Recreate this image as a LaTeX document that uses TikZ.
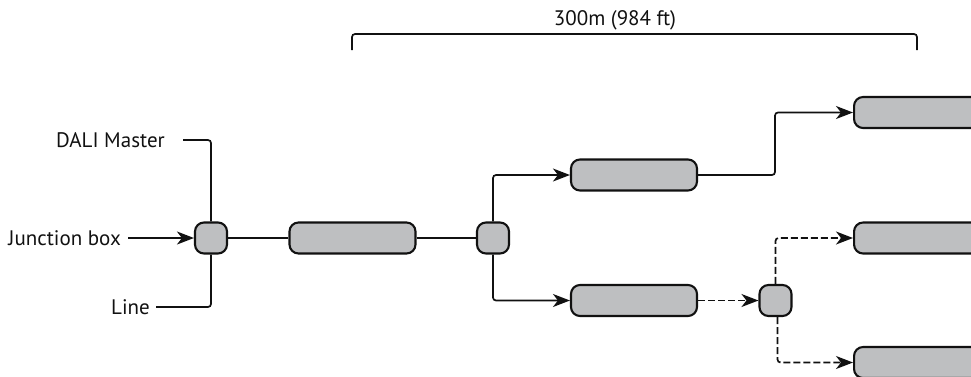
\documentclass[tikz,border=0pt]{standalone}
\usepackage{fontspec}
\setmainfont{PT Sans}
\usetikzlibrary{arrows.meta}
\definecolor{boxgray}{HTML}{BEBFC1}
\definecolor{ink}{HTML}{111111}
\tikzset{
  unit/.style={draw=ink, fill=boxgray, line width=2.1pt, rounded corners=9pt, inner sep=0pt, minimum height=31pt},
  junc/.style={unit, minimum width=32pt},
  bar/.style={unit, minimum width=126pt},
  wide/.style={unit, minimum width=150pt},
  lbl/.style={font=\fontsize{21}{24}\selectfont, inner sep=0pt, text=ink},
  wire/.style={draw=ink, line width=1.7pt, rounded corners=3pt},
  arr/.style={wire, -{Stealth[length=17pt, width=13pt, inset=5pt]}},
  dwire/.style={wire, dash pattern=on 7pt off 3pt},
  darr/.style={dwire, -{Stealth[length=17pt, width=13pt, inset=5pt]}}
}
\begin{document}
\begin{tikzpicture}[x=1pt,y=-1pt]
\clip (0,0) rectangle (971,376);
% bracket
\coordinate (bl) at (352,50);
\coordinate (br) at (917,50);
\draw[wire] (bl) -- ++(0,-16) -| (br);
\node[lbl] (dist) at (615,20) {300m (984 ft)};
% left labels
\node[lbl, anchor=east] (dali) at (165,140) {DALI Master};
\node[lbl, anchor=east] (jbox) at (121,238) {Junction box};
\node[lbl, anchor=east] (line) at (150,307) {Line};
% units
\node[junc] (j1) at (211,238) {};
\node[bar] (b1) at (352.5,238) {};
\node[junc] (j2) at (493,238) {};
\node[bar] (t1) at (634,175) {};
\node[bar] (d1) at (634,300.5) {};
\node[junc] (j3) at (775.5,300.5) {};
\node[wide, anchor=west] (r1) at (853,112.5) {};
\node[wide, anchor=west] (r2) at (853,238) {};
\node[wide, anchor=west] (r3) at (853,362.5) {};
\coordinate (c1) at (775,175);
% connectors
\draw[wire] ([xshift=18pt]dali.east) -- (dali.east -| j1.north) -- (j1.north);
\draw[arr] ([xshift=7pt]jbox.east) -- (j1.west);
\draw[wire] ([xshift=6pt]line.east) -- (line.east -| j1.south) -- (j1.south);
\draw[wire] (j1.east) -- (b1.west);
\draw[wire] (b1.east) -- (j2.west);
\draw[arr] (j2.north) |- (t1.west);
\draw[arr] (j2.south) |- (d1.west);
\draw[arr] (t1.east) -- (c1) |- (r1.west);
\draw[darr] (d1.east) -- (j3.west);
\draw[darr] (j3.north) |- (r2.west);
\draw[darr] ([xshift=2pt]j3.south) |- (r3.west);
\end{tikzpicture}
\end{document}
